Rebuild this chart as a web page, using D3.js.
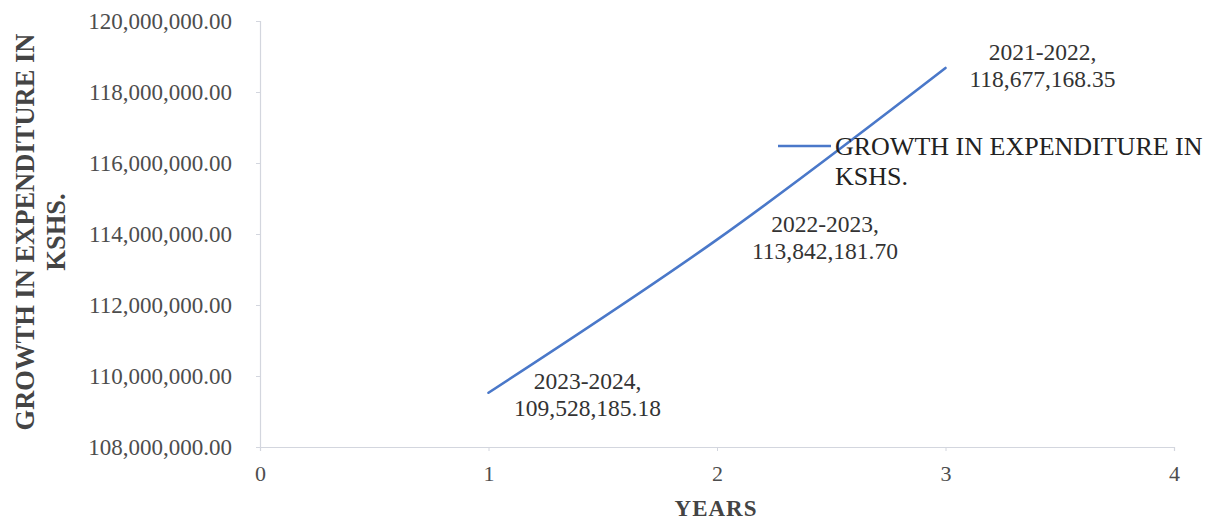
<!DOCTYPE html>
<html>
<head>
<meta charset="utf-8">
<script src="https://cdn.jsdelivr.net/npm/d3@7"></script>
<style>
  html, body { margin: 0; padding: 0; background: #fff; }
  svg { display: block; }
  text { font-family: "Liberation Serif", "Times New Roman", serif; }
</style>
</head>
<body>
<svg id="chart" width="1216" height="521"></svg>
<script>
// Expenditure per financial year, plotted against its position on the x axis
const periods = ["2023-2024", "2022-2023", "2021-2022"];
const positions = [1, 2, 3];
const expenditure = [109528185.18, 113842181.70, 118677168.35];

const xTicks = [0, 1, 2, 3, 4];
const yTicks = [108000000, 110000000, 112000000, 114000000, 116000000, 118000000, 120000000];

const seriesName = ["GROWTH IN EXPENDITURE IN", "KSHS."];
const yTitle = ["GROWTH IN EXPENDITURE IN", "KSHS."];
const xTitle = "YEARS";

const svg = d3.select("#chart");
const margin = { left: 260, right: 42, top: 21, bottom: 74 };
const W = 1216, H = 521;

const x = d3.scaleLinear().domain([0, 4]).range([margin.left, W - margin.right]);
const y = d3.scaleLinear().domain([108000000, 120000000]).range([H - margin.bottom, margin.top]);

const axisColor = "#d3d6de";
const tickText = "#4d4d4d";
const fmt = d3.format(",.2f");

// y axis
const yAxis = svg.append("g")
  .attr("transform", `translate(${margin.left},0)`)
  .call(d3.axisLeft(y).tickValues(yTicks).tickFormat(fmt).tickSize(4).tickPadding(24));
yAxis.select(".domain").attr("stroke", axisColor).attr("stroke-width", 1.2);
yAxis.selectAll(".tick line").attr("stroke", axisColor);
yAxis.selectAll(".tick text")
  .attr("fill", tickText)
  .style("font-size", "23px")
  .style("font-family", "'Liberation Serif', serif");

// x axis
const xAxis = svg.append("g")
  .attr("transform", `translate(0,${H - margin.bottom})`)
  .call(d3.axisBottom(x).tickValues(xTicks).tickFormat(d3.format("d")).tickSize(4).tickPadding(14));
xAxis.select(".domain").attr("stroke", axisColor).attr("stroke-width", 1.2);
xAxis.selectAll(".tick line").attr("stroke", axisColor);
xAxis.selectAll(".tick text")
  .attr("fill", tickText)
  .style("font-size", "22px")
  .style("font-family", "'Liberation Serif', serif");

// series line
const points = positions.map((p, i) => ({ x: p, y: expenditure[i], period: periods[i] }));
const line = d3.line()
  .x(d => x(d.x))
  .y(d => y(d.y))
  .curve(d3.curveCatmullRom.alpha(0.5));

svg.append("path")
  .datum(points)
  .attr("d", line)
  .attr("fill", "none")
  .attr("stroke", "#4a78c9")
  .attr("stroke-width", 2.6)
  .attr("stroke-linecap", "round");

// data labels: period and value, placed to the right of each point
const labelOffsets = [[99, -4], [108, -8], [97, -8]];
const labels = svg.append("g")
  .attr("fill", "#333")
  .style("font-size", "23.5px");
points.forEach((d, i) => {
  const lx = x(d.x) + labelOffsets[i][0];
  const t = labels.append("text")
    .attr("text-anchor", "middle")
    .attr("x", lx)
    .attr("y", y(d.y) + labelOffsets[i][1]);
  t.append("tspan").attr("x", lx).attr("dy", 0).text(d.period + ",");
  t.append("tspan").attr("x", lx).attr("dy", 27).text(fmt(d.y));
});

// legend
const lg = svg.append("g").attr("transform", "translate(778,146)");
lg.append("line")
  .attr("x1", 0).attr("x2", 53).attr("y1", 0).attr("y2", 0)
  .attr("stroke", "#4a78c9").attr("stroke-width", 2.6);
const lt = lg.append("text")
  .attr("x", 57).attr("y", 9)
  .attr("fill", "#222")
  .style("font-size", "26px");
lt.append("tspan").attr("x", 57).attr("dy", 0).text(seriesName[0]);
lt.append("tspan").attr("x", 57).attr("dy", 30).text(seriesName[1]);

// axis titles
const yt = svg.append("text")
  .attr("transform", "translate(34,232) rotate(-90)")
  .attr("text-anchor", "middle")
  .attr("fill", "#444")
  .style("font-size", "26.5px")
  .style("font-weight", "bold");
yt.append("tspan").attr("x", 0).attr("dy", 0).text(yTitle[0]);
yt.append("tspan").attr("x", 0).attr("dy", 31).text(yTitle[1]);

svg.append("text")
  .attr("x", 716).attr("y", 516)
  .attr("text-anchor", "middle")
  .attr("fill", "#444")
  .style("font-size", "23px")
  .style("font-weight", "bold")
  .style("letter-spacing", "1px")
  .text(xTitle);
</script>
</body>
</html>
